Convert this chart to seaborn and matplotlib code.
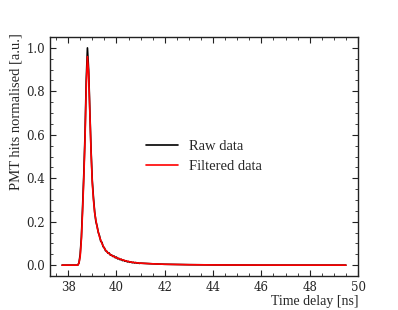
import numpy as np
import pandas as pd
import seaborn as sns
import matplotlib.pyplot as plt
from matplotlib.ticker import AutoMinorLocator

# Valeurs
raw_time = [37.75, 38.35, 38.40, 38.45, 38.50, 38.55, 38.60, 38.65, 38.70, 38.75, 38.80,
            38.85, 38.90, 38.95, 39.00, 39.05, 39.10, 39.15, 39.20, 39.25, 39.30,
            39.35, 39.40, 39.45, 39.50, 39.55, 39.60, 39.65, 39.70, 39.75, 39.80,
            39.85, 39.90, 39.95, 40.00, 40.05, 40.10, 40.15, 40.20, 40.25, 40.30,
            40.35, 40.40, 40.45, 40.50, 40.55, 40.60, 40.65, 40.70, 40.75, 40.80,
            40.85, 40.90, 40.95, 41.00, 41.50, 42.00, 43.00, 44.00, 46.00, 49.50]
raw_vals = [0.0, 0.0, 0.0, 0.01, 0.05, 0.13, 0.27, 0.42, 0.60, 0.85, 1.00,
            0.90, 0.71, 0.53, 0.39, 0.31, 0.245, 0.20, 0.18, 0.15, 0.135,
            0.11, 0.105, 0.085, 0.08, 0.066, 0.064, 0.055, 0.056, 0.046, 0.047,
            0.040, 0.042, 0.034, 0.037, 0.029, 0.031, 0.025, 0.027, 0.021, 0.023,
            0.018, 0.020, 0.015, 0.017, 0.013, 0.015, 0.011, 0.013, 0.010, 0.012,
            0.009, 0.010, 0.008, 0.009, 0.006, 0.004, 0.002, 0.001, 0.0, 0.0]

filt_time = [37.75, 38.40, 38.45, 38.50, 38.55, 38.60, 38.65, 38.70, 38.75, 38.80,
             38.85, 38.90, 38.95, 39.00, 39.05, 39.10, 39.20, 39.30, 39.40, 39.50,
             39.60, 39.70, 39.80, 39.90, 40.00, 40.20, 40.40, 40.60, 40.80, 41.00,
             41.50, 42.00, 43.00, 44.00, 45.00, 47.00, 49.50]
filt_vals = [0.0, 0.0, 0.01, 0.04, 0.12, 0.25, 0.40, 0.58, 0.82, 0.96,
             0.88, 0.70, 0.52, 0.38, 0.30, 0.24, 0.175, 0.13, 0.10, 0.077,
             0.062, 0.052, 0.045, 0.039, 0.034, 0.026, 0.019, 0.014, 0.011, 0.009,
             0.006, 0.004, 0.002, 0.001, 0.0005, 0.0, 0.0]

raw = pd.DataFrame({"t": raw_time, "v": raw_vals})
filt = pd.DataFrame({"t": filt_time, "v": filt_vals})

sns.set_style("ticks")
plt.rcParams["font.family"] = ["Liberation Serif", "DejaVu Serif"]

fig = plt.figure(figsize=(3.98, 3.10), dpi=100)
ax = fig.add_axes([0.1256, 0.1097, 0.7739, 0.7709])

sns.lineplot(data=raw, x="t", y="v", color="black", lw=1.2, label="Raw data", ax=ax)
sns.lineplot(data=filt, x="t", y="v", color="red", lw=1.2, label="Filtered data", ax=ax)

ax.set_xlim(37.25, 50)
ax.set_ylim(-0.05, 1.05)
ax.set_xticks(np.arange(38, 51, 2))
ax.set_yticks(np.arange(0, 1.01, 0.2))
ax.xaxis.set_minor_locator(AutoMinorLocator(4))
ax.yaxis.set_minor_locator(AutoMinorLocator(4))
ax.tick_params(which="both", direction="in", top=True, right=True, color="#222222")
ax.tick_params(which="major", length=4, width=0.8, labelsize=8.5)
ax.tick_params(which="minor", length=2, width=0.6)
for lab in ax.get_xticklabels() + ax.get_yticklabels():
    lab.set_fontfamily("DejaVu Serif")
for s in ax.spines.values():
    s.set_color("#222222")
    s.set_linewidth(1.0)

ax.set_xlabel("Time delay [ns]", fontsize=10, loc="right", labelpad=1)
ax.set_ylabel("PMT hits normalised [a.u.]", fontsize=10.5, loc="top")
ax.yaxis.set_label_coords(-0.088, 1.018)
ax.legend(loc="center", frameon=False, fontsize=10.5, handlelength=2.2)

fig.savefig("out.png", dpi=100)
